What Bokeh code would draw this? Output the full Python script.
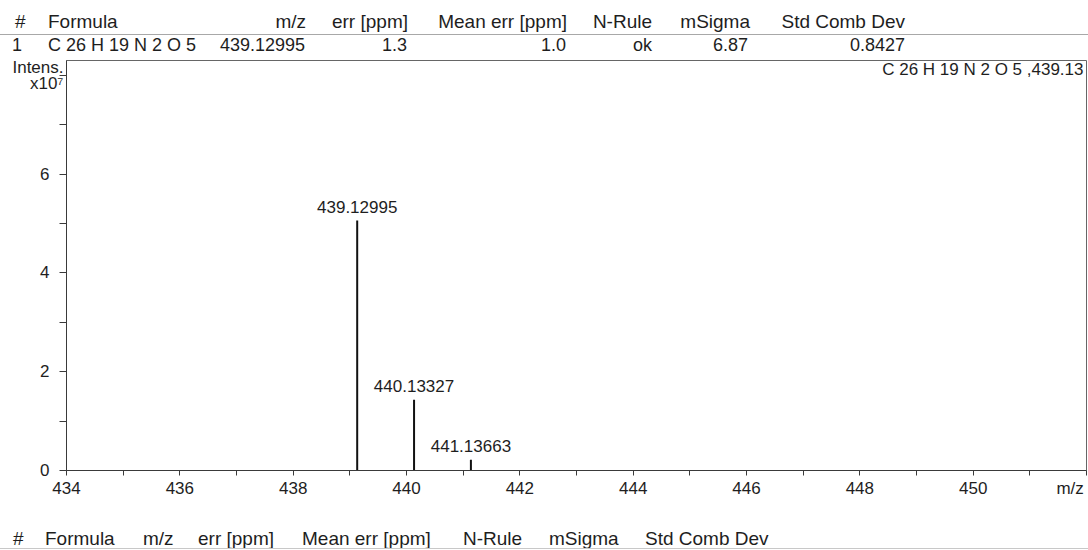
from bokeh.plotting import figure
from bokeh.layouts import column
from bokeh.models import Range1d, FixedTicker, Label, Div
from bokeh.core.properties import value
from bokeh.embed import file_html
from bokeh.resources import INLINE

# ---------------- data ----------------
table_header = ["#", "Formula", "m/z", "err [ppm]", "Mean err [ppm]", "N-Rule", "mSigma", "Std Comb Dev"]
table_row = ["1", "C 26 H 19 N 2 O 5", "439.12995", "1.3", "1.0", "ok", "6.87", "0.8427"]
footer_header = ["#", "Formula", "m/z", "err [ppm]", "Mean err [ppm]", "N-Rule", "mSigma", "Std Comb Dev"]

peak_mz = [439.12995, 440.13327, 441.13663]
peak_intensity = [5.06e7, 1.43e7, 0.22e7]
peak_labels = ["439.12995", "440.13327", "441.13663"]

x_major_ticks = [434, 436, 438, 440, 442, 444, 446, 448, 450, 452]
x_minor_ticks = [435, 437, 439, 441, 443, 445, 447, 449, 451]
x_tick_labels = ["434", "436", "438", "440", "442", "444", "446", "448", "450", "m/z"]
y_major_ticks = [0, 2e7, 4e7, 6e7, 8e7]
y_minor_ticks = [1e7, 3e7, 5e7, 7e7]
y_tick_labels = ["0", "2", "4", "6", "Intens.\nx10\u2077"]
legend_text = "C 26 H 19 N 2 O 5 ,439.13"

# ---------------- layout constants ----------------
W = 1088
FONT = "Liberation Sans"
TXT = "#1e1e1e"
NB = "\u00a0"


def span(text, x, ycenter, size, align):
    pos = f"left:{x}px;" if align == "left" else f"right:{W - x}px;"
    top = ycenter - size / 2
    return (f'<span style="position:absolute;{pos}top:{top}px;font-size:{size}px;'
            f'line-height:{size}px;white-space:pre;">{text}</span>')


# ---------------- top table (HTML text) ----------------
hA = 55
head_x = [15, 48, 306, 408, 567, 652, 750, 905]
head_align = ["left", "left", "right", "right", "right", "right", "right", "right"]
row_x = [22, 48, 305, 407, 566, 652, 748, 905]
row_align = ["right", "left", "right", "right", "right", "right", "right", "right"]

parts = [f'<div style="position:relative;width:{W}px;height:{hA}px;overflow:hidden;'
         f'font-family:\'{FONT}\';color:{TXT};">']
for i in range(len(table_header)):
    parts.append(span(table_header[i], head_x[i], 21, 19, head_align[i]))
    parts.append(span(table_row[i], row_x[i], 45, 18, row_align[i]))
parts.append('<div style="position:absolute;left:0;top:34px;width:100%;height:0;'
             'border-top:1px solid #a8a8a8;"></div>')
parts.append('</div>')
div_top = Div(text="".join(parts), width=W, height=hA, margin=0)

# ---------------- main spectrum ----------------
hB = 455
pb = figure(width=W, height=hB, x_range=Range1d(434, 452), y_range=Range1d(0, 8.3e7),
            toolbar_location=None, output_backend="svg", title=None,
            min_border_top=5, min_border_bottom=40, min_border_left=66, min_border_right=2)
pb.grid.visible = False
pb.outline_line_color = "#666666"
pb.background_fill_color = "white"

x_over = {}
for t, l in zip(x_major_ticks, x_tick_labels):
    x_over[t] = l if t != 452 else l + NB
y_over = {}
for t, l in zip(y_major_ticks, y_tick_labels):
    y_over[t] = l if t == 8e7 else l + NB * 3

pb.xaxis.ticker = FixedTicker(ticks=x_major_ticks, minor_ticks=x_minor_ticks)
pb.xaxis.major_label_overrides = x_over
pb.yaxis.ticker = FixedTicker(ticks=y_major_ticks, minor_ticks=y_minor_ticks)
pb.yaxis.major_label_overrides = y_over

for ax in (pb.xaxis, pb.yaxis):
    ax.axis_line_color = "#3a3a3a"
    ax.major_tick_line_color = "#3a3a3a"
    ax.minor_tick_line_color = "#3a3a3a"
    ax.major_tick_in = 0
    ax.minor_tick_in = 0
    ax.major_label_text_font = FONT
    ax.major_label_text_font_size = "17px"
    ax.major_label_text_color = TXT
pb.xaxis.major_tick_out = 5
pb.xaxis.minor_tick_out = 5
pb.xaxis.major_label_standoff = 3
pb.yaxis.major_tick_out = 7
pb.yaxis.minor_tick_out = 7
pb.yaxis.major_label_standoff = -4
pb.yaxis.major_label_text_line_height = 0.85

pb.segment(x0=peak_mz, y0=0, x1=peak_mz, y1=peak_intensity, line_color="#111111", line_width=2)
pb.text(x=peak_mz, y=peak_intensity, text=peak_labels, text_font=value(FONT),
        text_font_size="17px", text_color=TXT, text_align="center",
        text_baseline="alphabetic", y_offset=-14)

pb.add_layout(Label(x=452, y=8.3e7, text=legend_text, x_offset=-3, y_offset=-9,
                    text_align="right", text_baseline="middle", text_font=FONT,
                    text_font_size="17px", text_color=TXT))

# ---------------- footer header (HTML text) ----------------
hC = 40
foot_x = [13, 45, 143, 198, 302, 463, 549, 645]
parts = [f'<div style="position:relative;width:{W}px;height:{hC}px;overflow:hidden;'
         f'font-family:\'{FONT}\';color:{TXT};">']
for i in range(len(footer_header)):
    parts.append(span(footer_header[i], foot_x[i], 28, 19, "left"))
parts.append('<div style="position:absolute;left:0;top:38px;width:100%;height:0;'
             'border-top:1px solid #c8c8c8;"></div>')
parts.append('</div>')
div_bottom = Div(text="".join(parts), width=W, height=hC, margin=0)

layout = column(div_top, pb, div_bottom, spacing=0)
open("out.html", "w").write(file_html(layout, INLINE))
